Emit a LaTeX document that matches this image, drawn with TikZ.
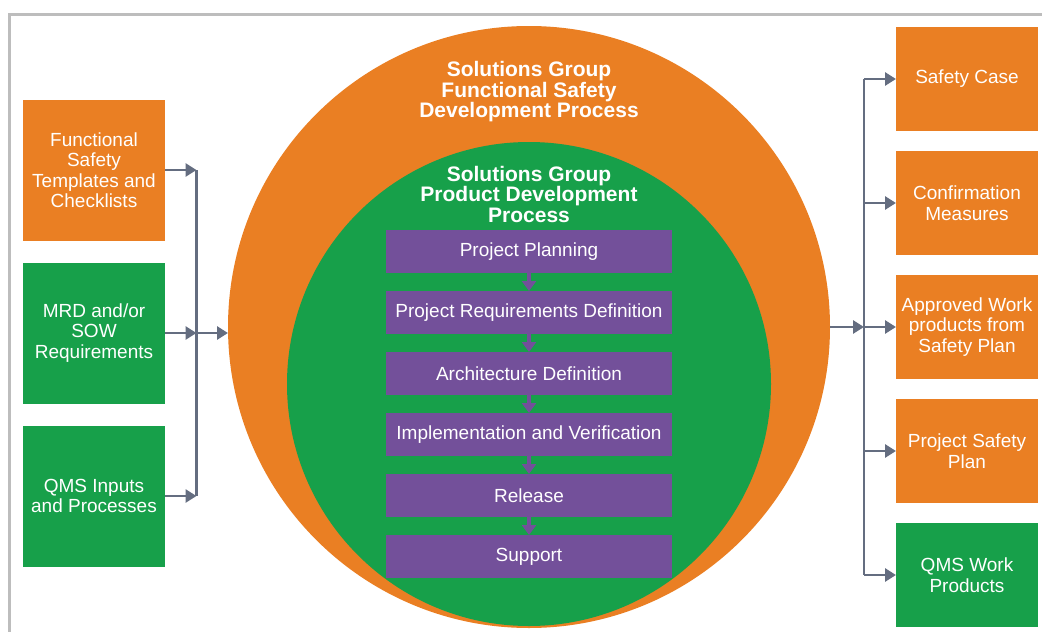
\documentclass[tikz,border=0pt]{standalone}
\usepackage{fontspec}
\setmainfont{Liberation Sans}
\usetikzlibrary{arrows.meta}
\definecolor{fsorange}{HTML}{EA7F23}
\definecolor{fsgreen}{HTML}{17A04A}
\definecolor{fspurple}{HTML}{73509A}
\definecolor{linkgray}{HTML}{646D80}
\definecolor{framegray}{HTML}{BDBDBD}
\begin{document}
\begin{tikzpicture}[x=1pt,y=-1pt,
  every node/.style={text=white,align=center,inner sep=0pt,outer sep=0pt},
  box/.style={minimum width=142pt,minimum height=141pt,font=\fontsize{19}{20.5}\selectfont},
  outbox/.style={minimum width=142pt,minimum height=104pt,font=\fontsize{19}{20.5}\selectfont},
  stepbox/.style={fill=fspurple,minimum width=286pt,minimum height=43pt,font=\fontsize{19}{20.5}\selectfont},
  heading/.style={font=\bfseries\fontsize{21}{20.5}\selectfont},
  link/.style={draw=linkgray,line width=2.8pt,-{Triangle[length=11pt,width=13pt]}},
  steplink/.style={draw=fspurple,line width=3.5pt,-{Triangle[length=10pt,width=14pt]}}]
\useasboundingbox (0,0) rectangle (1042,632);
\clip (0,0) rectangle (1042,632);
\draw[framegray,line width=3pt] (9.5,650) |- (1060,14.5);

% process circles
\node[circle,fill=fsorange,minimum size=602pt] (outer) at (529,327) {};
\node[circle,fill=fsgreen,minimum size=484pt] (inner) at (529,384) {};
\node[heading] (outtitle) at (529,92) {Solutions Group\\Functional Safety\\Development Process};
\node[heading] (intitle) at (529,194) {Solutions Group\\Product Development\\Process};

% development steps
\foreach \i/\txt in {1/Project Planning,2/Project Requirements Definition,
    3/Architecture Definition,4/Implementation and Verification,5/Release,6/Support}
  \node[stepbox] (p\i) at (529,190.5+61*\i) {\txt};
\foreach \a/\b in {1/2,2/3,3/4,4/5,5/6}
  \draw[steplink] (p\a) -- (p\b);

% inputs
\node[box,fill=fsorange] (in1) at (94,170) {Functional\\Safety\\Templates and\\Checklists};
\node[box,fill=fsgreen] (in2) at (94,333) {MRD and/or\\SOW\\Requirements};
\node[box,fill=fsgreen] (in3) at (94,496) {QMS Inputs\\and Processes};
\coordinate (lbus) at (196.5,333);
\draw[linkgray,line width=2.8pt] (in1.east -| lbus) -- (in3.east -| lbus);
\foreach \n in {in1,in2,in3}
  \draw[link] (\n.east) -- (\n.east -| lbus);
\draw[link] (lbus) -- (lbus -| outer.west);

% outputs
\node[outbox,fill=fsorange] (out1) at (967,79) {Safety Case};
\node[outbox,fill=fsorange] (out2) at (967,203) {Confirmation\\Measures};
\node[outbox,fill=fsorange] (out3) at (967,327) {Approved Work\\products from\\Safety Plan};
\node[outbox,fill=fsorange] (out4) at (967,451) {Project Safety\\Plan};
\node[outbox,fill=fsgreen] (out5) at (967,575) {QMS Work\\Products};
\coordinate (rbus) at (864,327);
\draw[linkgray,line width=2.8pt] (out1.west -| rbus) -- (out5.west -| rbus);
\draw[link] (outer.east) -- (rbus);
\foreach \n in {out1,out2,out3,out4,out5}
  \draw[link] (\n.west -| rbus) -- (\n.west);
\end{tikzpicture}
\end{document}
